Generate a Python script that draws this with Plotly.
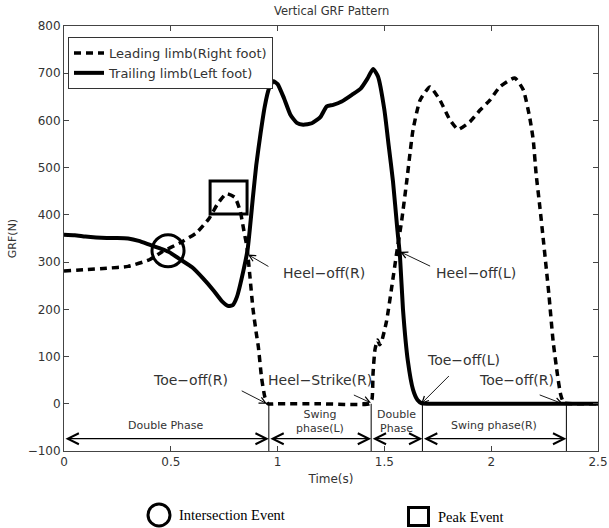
import plotly.graph_objects as go

# ---------------- data ----------------
t_trailing = [0, 0.05, 0.1, 0.15, 0.2, 0.25, 0.3, 0.35, 0.4, 0.45, 0.49, 0.55, 0.6, 0.65, 0.7,
              0.74, 0.77, 0.79, 0.81, 0.84, 0.86, 0.885, 0.9, 0.92, 0.94, 0.96, 0.98, 1.0, 1.03,
              1.06, 1.09, 1.12, 1.16, 1.2, 1.23, 1.26, 1.3, 1.35, 1.39, 1.42, 1.447, 1.47, 1.5,
              1.52, 1.54, 1.56, 1.573, 1.587, 1.61, 1.634, 1.655, 1.675, 1.7, 2.0, 2.5]
grf_trailing = [358, 357, 354, 352, 351, 351, 350, 345, 337, 329, 322, 304, 289, 266, 240,
                217, 207, 209, 227, 282, 328, 440, 505, 572, 630, 668, 683, 677, 647,
                612, 595, 591, 594, 607, 630, 633, 640, 655, 668, 688, 709, 693, 622,
                547, 472, 372, 312, 200, 90, 30, 8, 1, 0, 0, 0]

t_leading = [0, 0.1, 0.2, 0.3, 0.4, 0.46, 0.54, 0.62, 0.68, 0.72, 0.76, 0.8, 0.825, 0.84, 0.857,
             0.87, 0.885, 0.9, 0.91, 0.925, 0.94, 0.955, 1.0, 1.2, 1.43, 1.442, 1.447, 1.456,
             1.468, 1.478, 1.487, 1.51, 1.534, 1.557, 1.581, 1.605, 1.634, 1.667, 1.713, 1.76,
             1.807, 1.845, 1.9, 1.948, 1.994, 2.04, 2.11, 2.15, 2.18, 2.197, 2.21, 2.228, 2.243,
             2.27, 2.29, 2.31, 2.325, 2.34, 2.4, 2.5]
grf_leading = [281, 284, 287, 291, 305, 322, 340, 362, 393, 424, 445, 437, 408, 372, 330,
               272, 200, 150, 120, 55, 15, 0, 0, 0, 0, 10, 66, 115,
               135, 125, 132, 175, 246, 318, 388, 473, 580, 643, 671, 643,
               601, 581, 597, 622, 643, 671, 690, 665, 607, 558, 488, 416, 352,
               232, 132, 62, 20, 2, 0, 0]

x_ticks = [0, 0.5, 1, 1.5, 2, 2.5]
x_tick_labels = ["0", "0.5", "1", "1.5", "2", "2.5"]
y_ticks = [-100, 0, 100, 200, 300, 400, 500, 600, 700, 800]
y_tick_labels = ["\u2212100", "0", "100", "200", "300", "400", "500", "600", "700", "800"]

# phase boundaries (s) and labels
phase_bounds = [0, 0.959, 1.438, 1.678, 2.352]
phase_labels = ["Double Phase", "Swing<br>phase(L)", "Double<br>Phase", "Swing phase(R)"]

# event annotations: label, tip (t, grf), tail (t, grf), text position (t, grf)
event_labels = ["Heel\u2212off(R)", "Heel\u2212off(L)", "Toe\u2212off(R)", "Heel\u2212Strike(R)",
                "Toe\u2212off(L)", "Toe\u2212off(R)"]
event_tip_t = [0.861, 1.573, 0.95, 1.437, 1.672, 2.335]
event_tip_g = [316, 322, 0, 2, 0, 0]
event_tail_t = [0.964, 1.721, 0.825, 1.35, 1.809, 2.22]
event_tail_g = [289, 290, 29, 20, 62, 20]
event_text_t = [1.215, 1.93, 0.592, 1.2, 1.87, 2.12]
event_text_g = [278, 278, 50, 50, 93, 50]

# ---------------- layout constants ----------------
W, Hgt = 609, 528
ML, MR, MT, MB = 64, 11, 26, 77
PW = W - ML - MR
PH = Hgt - MT - MB
def pxx(px):                  # page pixel -> paper x
    return (px - ML) / PW
def pxy(py):                  # page pixel -> paper y
    return (Hgt - MB - py) / PH

FONT = "DejaVu Sans"
TXT = "#333333"

fig = go.Figure()
fig.add_trace(go.Scatter(
    x=t_leading, y=grf_leading, mode="lines", name="Leading limb(Right foot)",
    line=dict(color="black", width=3.5, dash="7px,5px", shape="spline", smoothing=0.5),
))
fig.add_trace(go.Scatter(
    x=t_trailing, y=grf_trailing, mode="lines", name="Trailing limb(Left foot)",
    line=dict(color="black", width=4, shape="spline", smoothing=0.5),
))

shapes = []
# event markers in the plot
shapes.append(dict(type="circle", xref="x", yref="y", x0=0.412, x1=0.562, y0=290, y1=358,
                   line=dict(color="black", width=3)))
shapes.append(dict(type="rect", xref="x", yref="y", x0=0.684, x1=0.857, y0=402, y1=472,
                   line=dict(color="black", width=3)))
# phase boundaries
for b in phase_bounds[1:]:
    shapes.append(dict(type="line", xref="x", yref="y", x0=b, x1=b, y0=0, y1=-100,
                       line=dict(color="black", width=1)))
# bottom legend markers
shapes.append(dict(type="circle", xref="paper", yref="paper",
                   x0=pxx(148), x1=pxx(170), y0=pxy(526), y1=pxy(504),
                   line=dict(color="black", width=3)))
shapes.append(dict(type="rect", xref="paper", yref="paper",
                   x0=pxx(408.5), x1=pxx(428.5), y0=pxy(525.5), y1=pxy(507.5),
                   line=dict(color="black", width=3)))

annotations = []
# phase arrows and labels
for i in range(len(phase_labels)):
    a, b = phase_bounds[i], phase_bounds[i + 1]
    annotations.append(dict(x=b, y=-74, ax=a, ay=-74, xref="x", yref="y", axref="x", ayref="y",
                            text="", showarrow=True, arrowhead=5, startarrowhead=5,
                            arrowside="end+start", arrowsize=1.8, startarrowsize=1.8,
                            arrowwidth=1.2, arrowcolor="black", standoff=0, startstandoff=0))
    two_line = "<br>" in phase_labels[i]
    annotations.append(dict(x=(a + b) / 2, y=-38 if two_line else -47, xref="x", yref="y",
                            text=phase_labels[i], showarrow=False,
                            font=dict(family=FONT, size=11, color=TXT)))
# event arrows and labels
for i in range(len(event_labels)):
    annotations.append(dict(x=event_tip_t[i], y=event_tip_g[i], ax=event_tail_t[i], ay=event_tail_g[i],
                            xref="x", yref="y", axref="x", ayref="y", text="", showarrow=True,
                            arrowhead=5, arrowsize=1.4, arrowwidth=0.9, arrowcolor="black",
                            standoff=0, startstandoff=0))
    annotations.append(dict(x=event_text_t[i], y=event_text_g[i], xref="x", yref="y",
                            text=event_labels[i], showarrow=False,
                            font=dict(family=FONT, size=14, color=TXT)))
# title and bottom legend text
annotations.append(dict(x=0.5, y=pxy(11), xref="paper", yref="paper", yanchor="middle",
                        text="Vertical GRF Pattern",
                        showarrow=False, font=dict(family=FONT, size=11.5, color=TXT)))
annotations.append(dict(x=pxx(177), y=pxy(515), xref="paper", yref="paper", xanchor="left",
                        yanchor="middle", text="Intersection Event", showarrow=False,
                        font=dict(family="Liberation Serif", size=14.5, color="black")))
annotations.append(dict(x=pxx(436), y=pxy(517), xref="paper", yref="paper", xanchor="left",
                        yanchor="middle", text="Peak Event", showarrow=False,
                        font=dict(family="Liberation Serif", size=14.5, color="black")))

fig.update_layout(
    width=W, height=Hgt,
    margin=dict(l=ML, r=MR, t=MT, b=MB),
    paper_bgcolor="white", plot_bgcolor="white",
    shapes=shapes, annotations=annotations,
    showlegend=True,
    legend=dict(x=pxx(68), y=pxy(37), xanchor="left", yanchor="top",
                bordercolor="#333333", borderwidth=1, bgcolor="white",
                font=dict(family=FONT, size=13, color=TXT),
                tracegroupgap=0, itemwidth=30),
    xaxis=dict(range=[0, 2.5], tickvals=x_ticks, ticktext=x_tick_labels, automargin=False,
               ticklabeloverflow="allow",
               showgrid=False, zeroline=False, showline=True, linecolor="#444444", linewidth=1,
               mirror="ticks", ticks="inside", ticklen=5, tickcolor="#444444",
               tickfont=dict(family=FONT, size=12, color=TXT),
               title=dict(text="Time(s)", font=dict(family=FONT, size=12, color=TXT), standoff=6)),
    yaxis=dict(range=[-100, 800], tickvals=y_ticks, ticktext=y_tick_labels, automargin=False,
               ticklabeloverflow="allow",
               showgrid=False, zeroline=False, showline=True, linecolor="#444444", linewidth=1,
               mirror="ticks", ticks="inside", ticklen=5, tickcolor="#444444",
               tickfont=dict(family=FONT, size=12, color=TXT),
               title=dict(text="GRF(N)", font=dict(family=FONT, size=11, color=TXT), standoff=8)),
)

# remove the default page margin so the figure fills the 609x528 window exactly
fig.write_html("out.html", config={"displayModeBar": False},
               post_script="document.body.style.margin='0';document.body.style.overflow='hidden';")
